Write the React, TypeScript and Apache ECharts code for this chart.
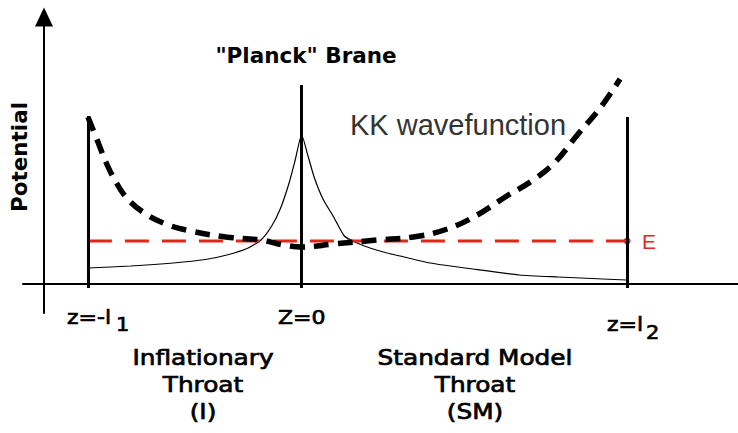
import React, { useEffect, useRef } from "react";
import * as echarts from "echarts";

// Brane positions (in units of l1) and heights
const braneZ = [-1, 0, 1.523];
const braneTop = [1.68, 1.99, 1.67];
const braneBottom = -0.04;
const energyE = 0.43;

// Warped potential (thin line)
const potentialZ = [-1, -0.8, -0.6, -0.45, -0.35, -0.25, -0.19, -0.14, -0.1, -0.06, -0.03, 0, 0.03, 0.06, 0.1, 0.15, 0.2, 0.26, 0.32, 0.4, 0.48, 0.6, 0.8, 1.02, 1.2, 1.41, 1.523];
const potentialV = [0.16, 0.18, 0.21, 0.245, 0.29, 0.36, 0.44, 0.58, 0.75, 1.0, 1.24, 1.49, 1.28, 1.06, 0.85, 0.67, 0.48, 0.41, 0.36, 0.31, 0.27, 0.21, 0.15, 0.09, 0.07, 0.05, 0.04];

// KK wavefunction (thick dashed)
const kkZ = [-1, -0.953, -0.916, -0.874, -0.822, -0.743, -0.636, -0.519, -0.355, -0.192, -0.084, 0, 0.15, 0.355, 0.523, 0.682, 0.822, 0.953, 1.084, 1.187, 1.29, 1.397, 1.49];
const kkPsi = [1.67, 1.42, 1.22, 1.04, 0.87, 0.72, 0.6, 0.53, 0.47, 0.44, 0.39, 0.37, 0.4, 0.44, 0.47, 0.55, 0.69, 0.87, 1.04, 1.22, 1.49, 1.76, 2.05];

// Labels
const tickLabels = ["z=-l", "Z=0", "z=l"];
const tickSubs = ["1", "", "2"];
const regionLabels = ["Inflationary\nThroat\n(I)", "Standard Model\nThroat\n(SM)"];
const axisName = "Potential";
const braneTitle = '"Planck" Brane';
const kkTitle = "KK wavefunction";
const energyLabel = "E";

const X_MIN = -1.30374;
const X_MAX = 2.04206;
const Y_MIN = -0.29;
const Y_MAX = 2.67;

const BOTTOM_FONT = '"DejaVu Sans", Verdana, sans-serif';

export default function App() {
  const ref = useRef<HTMLDivElement>(null);
  useEffect(() => {
    if (!ref.current) return;
    const chart = echarts.init(ref.current, null, { renderer: "svg" });

    const tickPos = [
      { x: 67, y: 317, sx: 116, sy: 324 },
      { x: 278, y: 317, sx: 0, sy: 0 },
      { x: 607, y: 324, sx: 646, sy: 332 },
    ];
    const regionPos = [203, 475];
    const medium = { stroke: "#000", lineWidth: 0.7 };

    const graphic: any[] = [
      {
        type: "text",
        x: 306,
        y: 55,
        style: {
          text: braneTitle,
          font: 'bold 21.5px "DejaVu Sans", Verdana, sans-serif',
          fill: "#000",
          align: "center",
          verticalAlign: "middle",
        },
      },
      {
        type: "text",
        x: 350,
        y: 125,
        style: {
          text: kkTitle,
          font: '29px "Liberation Sans", Arial, sans-serif',
          fill: "#333",
          align: "left",
          verticalAlign: "middle",
        },
      },
    ];
    tickLabels.forEach((t, i) => {
      graphic.push({
        type: "text",
        x: tickPos[i].x,
        y: tickPos[i].y,
        scaleX: 1.1,
        style: { text: t, font: `20px ${BOTTOM_FONT}`, fill: "#000", ...medium, align: "left", verticalAlign: "middle" },
      });
      if (tickSubs[i]) {
        graphic.push({
          type: "text",
          x: tickPos[i].sx,
          y: tickPos[i].sy,
          scaleX: 1.1,
          style: { text: tickSubs[i], font: `19px ${BOTTOM_FONT}`, fill: "#000", ...medium, align: "left", verticalAlign: "middle" },
        });
      }
    });
    regionLabels.forEach((t, i) => {
      graphic.push({
        type: "text",
        x: regionPos[i],
        y: 385,
        scaleX: 1.18,
        style: {
          text: t,
          font: `21px ${BOTTOM_FONT}`,
          lineHeight: 27,
          fill: "#000",
          ...medium,
          align: "center",
          verticalAlign: "middle",
        },
      });
    });

    const option: any = {
      animation: false,
      backgroundColor: "#fff",
      grid: { left: 22, right: 0, top: 17, bottom: 120 },
      xAxis: {
        type: "value",
        min: X_MIN,
        max: X_MAX,
        axisLine: { show: true, onZero: true, lineStyle: { color: "#000", width: 2 } },
        axisTick: { show: false },
        axisLabel: { show: false },
        splitLine: { show: false },
      },
      yAxis: {
        type: "value",
        min: Y_MIN,
        max: Y_MAX,
        offset: -21,
        name: axisName,
        nameLocation: "middle",
        nameRotate: 90,
        nameGap: 14,
        nameTextStyle: {
          fontFamily: '"DejaVu Sans", Verdana, sans-serif',
          fontWeight: "bold",
          fontSize: 21.5,
          color: "#000",
          padding: [0, 0, 0, 16],
        },
        axisLine: {
          show: true,
          onZero: false,
          symbol: ["none", "triangle"],
          symbolSize: [18, 19],
          lineStyle: { color: "#000", width: 2 },
        },
        axisTick: { show: false },
        axisLabel: { show: false },
        splitLine: { show: false },
      },
      series: [
        {
          type: "line",
          name: "Potential",
          data: potentialZ.map((z, i) => [z, potentialV[i]]),
          showSymbol: false,
          smooth: 0.2,
          lineStyle: { color: "#000", width: 1.2 },
          z: 2,
          markLine: {
            silent: true,
            symbol: ["none", "none"],
            label: { show: false },
            lineStyle: { color: "#000", width: 3, type: "solid" },
            data: braneZ.map((z, i) => [
              { coord: [z, braneBottom] },
              { coord: [z, braneTop[i]] },
            ]),
          },
        },
        {
          type: "line",
          name: "E",
          data: [
            { value: [braneZ[0], energyE], symbol: "none" },
            { value: [braneZ[2], energyE], symbol: "circle", symbolSize: 7 },
          ],
          showSymbol: true,
          itemStyle: { color: "#e3261c" },
          lineStyle: { color: "#e3261c", width: 3, type: [24, 13] },
          endLabel: {
            show: true,
            formatter: energyLabel,
            color: "#e3261c",
            fontSize: 21,
            fontFamily: '"Liberation Sans", Arial, sans-serif',
            distance: 15,
          },
          z: 3,
        },
        {
          type: "line",
          name: "KK wavefunction",
          data: kkZ.map((z, i) => [z, kkPsi[i]]),
          showSymbol: false,
          smooth: 0.4,
          lineStyle: { color: "#000", width: 5.5, type: [15, 9] },
          z: 4,
        },
      ],
      graphic,
    };
    chart.setOption(option);
    return () => chart.dispose();
  }, []);

  return (
    <div
      ref={ref}
      style={{ position: "absolute", left: 0, top: 0, width: 738, height: 433, background: "#fff" }}
    />
  );
}
